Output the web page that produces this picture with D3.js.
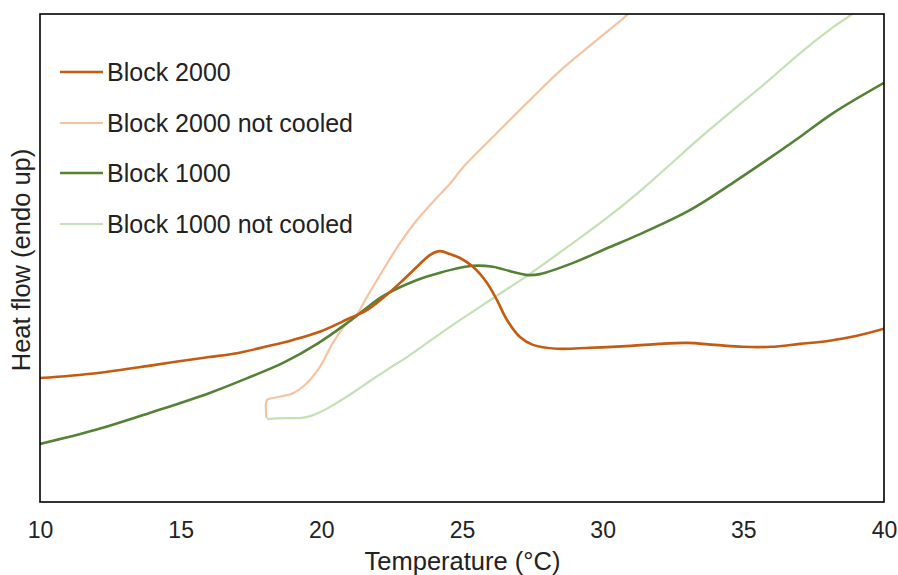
<!DOCTYPE html>
<html>
<head>
<meta charset="utf-8">
<script src="https://cdn.jsdelivr.net/npm/d3@7"></script>
<style>
  html, body { margin: 0; padding: 0; background: #fff; }
  svg { display: block; font-family: "Liberation Sans", Arial, sans-serif; }
</style>
</head>
<body>
<svg id="chart" width="898" height="575"></svg>
<script>
// ---- data (temperature in °C, heat flow in arbitrary units) ----
const xTicks = [10, 15, 20, 25, 30, 35, 40];
const xLabel = "Temperature (°C)";
const yLabel = "Heat flow (endo up)";
const seriesNames = ["Block 2000", "Block 2000 not cooled", "Block 1000", "Block 1000 not cooled"];
const seriesColors = ["#C55A11", "#F6C3A2", "#548235", "#C5E0B4"];

const block2000T = [10.00, 11.99, 13.98, 15.01, 16.01, 17.00, 18.00, 18.99, 19.99, 21.02, 21.62, 22.19, 22.80, 23.40, 23.86, 24.22, 24.57, 24.93, 25.39, 25.89, 26.24, 26.60, 27.06, 27.52, 28.38, 29.55, 31.01, 32.00, 33.00, 33.99, 34.99, 35.98, 37.01, 38.01, 39.00, 40.00];
const block2000V = [25.4, 26.4, 28.0, 28.9, 29.7, 30.5, 31.8, 33.2, 35.0, 37.7, 39.3, 41.8, 44.9, 48.2, 50.6, 51.4, 50.8, 50.0, 48.2, 44.9, 41.4, 37.3, 33.8, 32.2, 31.4, 31.6, 32.0, 32.4, 32.6, 32.2, 31.8, 31.8, 32.4, 33.0, 34.0, 35.5];

const block2000ncT = [18.05, 18.07, 18.28, 18.99, 19.49, 19.95, 20.41, 20.91, 21.20, 21.62, 22.19, 22.80, 23.40, 23.97, 24.57, 25.04, 26.24, 27.42, 28.59, 29.80, 30.90, 31.20];
const block2000ncV = [17.2, 20.9, 21.3, 22.3, 24.4, 27.7, 32.6, 36.7, 37.9, 42.0, 47.5, 53.1, 57.8, 61.5, 65.2, 68.6, 75.6, 82.4, 88.9, 94.7, 100.0, 102.0];

const block1000T = [10.00, 11.99, 13.98, 16.01, 17.46, 18.64, 19.85, 21.02, 22.19, 23.40, 24.22, 25.39, 26.10, 26.71, 27.35, 27.77, 28.95, 30.15, 31.33, 33.10, 34.63, 35.84, 37.01, 38.19, 40.00];
const block1000V = [11.9, 14.8, 18.4, 22.3, 25.6, 28.5, 32.4, 37.1, 42.2, 45.5, 47.0, 48.4, 48.2, 47.3, 46.5, 46.7, 49.0, 52.0, 54.9, 59.8, 65.4, 70.1, 74.8, 79.7, 85.9];

const block1000ncT = [18.07, 18.71, 19.24, 19.60, 19.95, 20.31, 20.66, 21.20, 21.73, 22.44, 23.15, 23.86, 24.57, 26.17, 27.35, 28.95, 30.15, 31.33, 32.29, 33.46, 34.63, 35.84, 37.02, 38.19, 38.90, 39.50];
const block1000ncV = [17.0, 17.2, 17.2, 17.6, 18.4, 19.5, 20.7, 22.7, 24.8, 27.5, 30.1, 33.0, 35.9, 42.0, 46.5, 53.1, 58.2, 63.7, 68.6, 74.6, 80.3, 86.1, 92.0, 97.3, 100.2, 104.0];

const seriesT = [block2000T, block2000ncT, block1000T, block1000ncT];
const seriesV = [block2000V, block2000ncV, block1000V, block1000ncV];
const seriesWidth = [2.6, 2.2, 2.6, 2.2];
// draw order: light curves beneath dark ones
const drawOrder = [1, 3, 2, 0];

// ---- layout ----
const svg = d3.select("#chart");
const mLeft = 40, mRight = 884, mTop = 14, mBottom = 502;

const x = d3.scaleLinear().domain([10, 40]).range([mLeft, mRight]);
const y = d3.scaleLinear().domain([0, 100]).range([mBottom, mTop]);

svg.append("defs").append("clipPath").attr("id", "plotClip")
  .append("rect").attr("x", mLeft).attr("y", mTop).attr("width", mRight - mLeft).attr("height", mBottom - mTop);

const line = d3.line().x(d => x(d[0])).y(d => y(d[1])).curve(d3.curveCatmullRom.alpha(0.5));

const g = svg.append("g").attr("clip-path", "url(#plotClip)");
drawOrder.forEach(i => {
  const pts = seriesT[i].map((t, k) => [t, seriesV[i][k]]);
  g.append("path").datum(pts)
    .attr("d", line)
    .attr("fill", "none")
    .attr("stroke", seriesColors[i])
    .attr("stroke-width", seriesWidth[i])
    .attr("stroke-linejoin", "round")
    .attr("stroke-linecap", "butt");
});

// frame
svg.append("rect")
  .attr("x", mLeft).attr("y", mTop).attr("width", mRight - mLeft).attr("height", mBottom - mTop)
  .attr("fill", "none").attr("stroke", "#000").attr("stroke-width", 1.6);

// x axis (labels only, no tick marks)
const xAxis = d3.axisBottom(x).tickValues(xTicks).tickSize(0).tickPadding(20).tickFormat(d3.format("d"));
const ax = svg.append("g").attr("transform", `translate(0,${mBottom})`).call(xAxis);
ax.select(".domain").remove();
ax.selectAll("text").attr("font-size", 23).attr("fill", "#222").attr("font-family", "Liberation Sans, Arial, sans-serif");

// axis titles
svg.append("text")
  .attr("x", (mLeft + mRight) / 2 + 0.5).attr("y", 570)
  .attr("text-anchor", "middle").attr("font-size", 25.5).attr("fill", "#222")
  .text(xLabel);

svg.append("text")
  .attr("transform", `translate(30,${(mTop + mBottom) / 2 + 2}) rotate(-90)`)
  .attr("text-anchor", "middle").attr("font-size", 25.5).attr("fill", "#222")
  .text(yLabel);

// legend
const legendY = [72, 123, 173, 224];
seriesNames.forEach((name, i) => {
  const lg = svg.append("g").attr("transform", `translate(0,${legendY[i]})`);
  lg.append("line").attr("x1", 60).attr("x2", 103).attr("y1", 0).attr("y2", 0)
    .attr("stroke", seriesColors[i]).attr("stroke-width", seriesWidth[i]);
  lg.append("text").attr("x", 107).attr("y", 0).attr("dy", "0.35em")
    .attr("font-size", 25).attr("fill", "#222").text(name);
});
</script>
</body>
</html>
